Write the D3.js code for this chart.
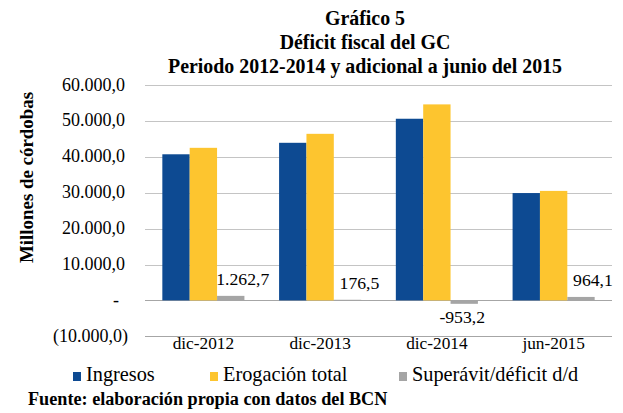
<!DOCTYPE html>
<html><head><meta charset="utf-8">
<script src="https://cdn.jsdelivr.net/npm/d3@7"></script>
<style>body{margin:0;background:#fff;}</style>
</head>
<body><svg id="c" width="623" height="413"></svg>
<script>
const categories = ["dic-2012","dic-2013","dic-2014","jun-2015"];
const seriesNames = ["Ingresos","Erogación total","Superávit/déficit d/d"];
const ingresos = [40700, 43900, 50600, 29900];
const erogacion = [42500, 46400, 54600, 30500];
const superavit = [1262.7, 176.5, -953.2, 964.1];
const yTicks = [-10000, 0, 10000, 20000, 30000, 40000, 50000, 60000];
const titleLines = ["Gráfico 5","Déficit fiscal del GC","Periodo 2012-2014 y adicional a junio del 2015"];
const yTitle = "Millones de córdobas";
const source = "Fuente: elaboración propia con datos del BCN";
const colors = ["#0D4A92","#FDC52F","#A5A5A5"];
const FONT = "Liberation Serif";

const svg = d3.select("#c");
function fit(str, target, bold){
  const t = svg.append("text").attr("font-family",FONT).attr("font-size",20).attr("font-weight",bold?"bold":"normal").text(str);
  const w = t.node().getComputedTextLength(); t.remove();
  return Math.round(200*target/w)/10;
}
const fsTitle = fit(titleLines[2], 395, true);
const fsTick = fit("60.000,0", 63, false);
const fsCat = fit("dic-2012", 61.5, false);
const fsLab = fit("1.262,7", 53, false);
const fsLeg = fit(seriesNames[2], 166, false);
const fsSrc = fit(source, 359, true);
const fsYT = fit(yTitle, 171, true);

const m = {l:145, r:612, t:85, b:336.3};
const y = d3.scaleLinear().domain([-10000,60000]).range([m.b,m.t]);
const x0 = d3.scaleBand().domain(categories).range([m.l,m.r]).paddingInner(0.297).paddingOuter(0.1485);
const x1 = d3.scaleBand().domain(seriesNames).range([0,x0.bandwidth()]);

svg.append("g").selectAll("line").data(yTicks).join("line")
  .attr("x1",m.l).attr("x2",m.r).attr("y1",d=>Math.round(y(d))+0.5).attr("y2",d=>Math.round(y(d))+0.5)
  .attr("stroke",d=>d===0||d===-10000?"#A6A6A6":"#C4C4C4").attr("stroke-width",1.2);

const fmt = d3.formatLocale({decimal:",",thousands:".",grouping:[3],currency:["",""],minus:"-"}).format(",.1f");
const tickLabel = d => d===0 ? "-" : d<0 ? "("+fmt(-d)+")" : fmt(d);
svg.append("g").selectAll("text").data(yTicks).join("text")
  .attr("x",d=>d===0?119:(d<0?128:125)).attr("y",d=>y(d)+5.5).attr("text-anchor","end")
  .attr("font-size",fsTick).text(tickLabel);

const series = [ingresos, erogacion, superavit];
const g = svg.append("g");
series.forEach((vals,si)=>{
  g.selectAll(null).data(vals).join("rect")
    .attr("x",(d,i)=>x0(categories[i])+x1(seriesNames[si]))
    .attr("width",x1.bandwidth())
    .attr("y",d=>y(Math.max(0,d)))
    .attr("height",d=>Math.abs(y(d)-y(0)))
    .attr("fill",colors[si]);
});

svg.append("g").selectAll("text").data(superavit).join("text")
  .attr("x",(d,i)=>x0(categories[i])+x1(seriesNames[2])+x1.bandwidth()/2 + (d>0?12:-2))
  .attr("y",d=> d>=0 ? y(d)-11 : y(d)+19)
  .attr("text-anchor","middle").attr("font-size",fsLab)
  .text(d=>fmt(d));

svg.append("g").selectAll("text").data(categories).join("text")
  .attr("x",d=>x0(d)+x0.bandwidth()/2).attr("y",349)
  .attr("text-anchor","middle").attr("font-size",fsCat).text(d=>d);

svg.append("g").selectAll("text").data(titleLines).join("text")
  .attr("x",365).attr("y",(d,i)=>25+i*24).attr("text-anchor","middle")
  .attr("font-size",fsTitle).attr("font-weight","bold").text(d=>d);

svg.append("text").attr("transform","translate(33,177.5) rotate(-90)")
  .attr("text-anchor","middle").attr("font-size",fsYT).attr("font-weight","bold").text(yTitle);

const legX = [73, 210, 399];
const leg = svg.append("g").selectAll("g").data(seriesNames).join("g")
  .attr("transform",(d,i)=>`translate(${legX[i]},372)`);
leg.append("rect").attr("width",8).attr("height",9).attr("fill",(d,i)=>colors[i]);
leg.append("text").attr("x",13).attr("y",9).attr("font-size",fsLeg).text(d=>d);

svg.append("text").attr("x",28).attr("y",405).attr("font-size",fsSrc).attr("font-weight","bold").text(source);

svg.selectAll("text").attr("font-family",FONT).attr("fill","#000");
</script></body></html>
